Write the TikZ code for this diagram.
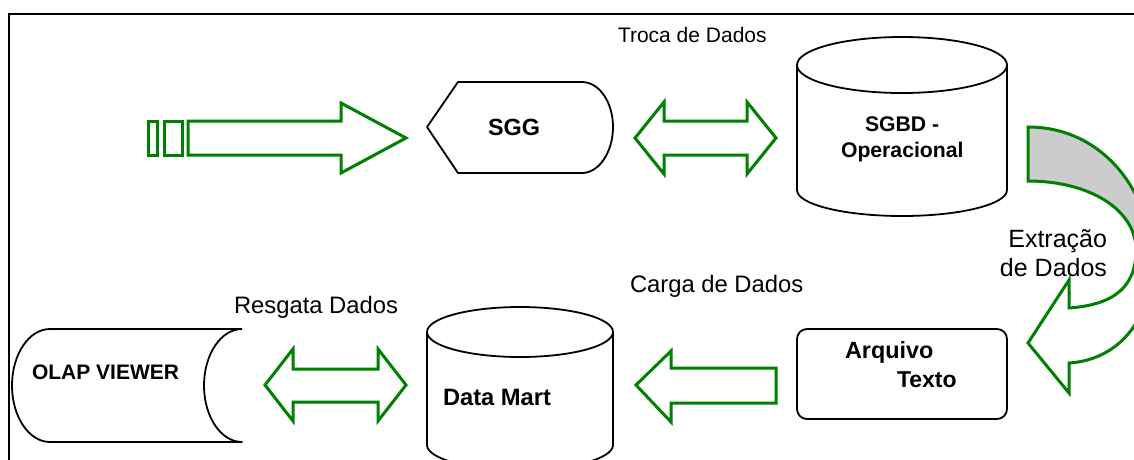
\documentclass[tikz,border=0pt]{standalone}
\usepackage{fontspec}
\setmainfont{Liberation Sans}
\begin{document}
\begin{tikzpicture}[x=1pt,y=-1pt,
  shapeline/.style={draw=black, line width=1.8pt, fill=white, line join=round},
  blockarrow/.style={draw=arrowgreen, line width=3pt, fill=white, line join=miter},
  lbl/.style={inner sep=0pt, outer sep=0pt},
  txt/.style={lbl, anchor=base west},
  txtr/.style={lbl, anchor=base east}]
\definecolor{arrowgreen}{RGB}{0,128,0}
\definecolor{backshade}{RGB}{204,204,204}
\newcommand{\fs}[1]{\fontsize{#1}{#1}\selectfont}

\useasboundingbox (0,0) rectangle (1134,459);
\clip (0,0) rectangle (1134,459);
\fill[white] (0,0) rectangle (1134,459);

% outer frame, open to the right and bottom
\draw[line width=2pt] (1140,14) -- (9,14) -- (9,470);

% ---- feed arrow into SGG ----
\draw[blockarrow] (148,121) rectangle (157,155);
\draw[blockarrow] (164,121) rectangle (182,155);
\draw[blockarrow] (188,121) -- (341,121) -- (341,103) -- (406,138)
  -- (341,173) -- (341,155) -- (188,155) -- cycle;

% ---- SGG (display shape) ----
\draw[shapeline] (427,127) -- (458,82) -- (582,82)
  .. controls (599,82) and (613,102) .. (613,127)
  .. controls (613,152) and (599,173) .. (582,173) -- (458,173) -- cycle;
\node[txt, font=\bfseries\fs{23.4}] (sgg) at (488,135) {SGG};

% ---- exchange arrow SGG <-> SGBD ----
\draw[blockarrow] (635,138) -- (664,102) -- (664,121) -- (747,121)
  -- (747,102) -- (776,138) -- (747,174) -- (747,155) -- (664,155)
  -- (664,174) -- cycle;
\node[txt, font=\fs{21}] (troca) at (618,42) {Troca de Dados};

% ---- SGBD cylinder ----
\draw[shapeline] (797,65) -- (797,190)
  arc[start angle=180, end angle=360, x radius=105pt, y radius=26pt]
  -- (1007,65);
\draw[shapeline] (902,65) ellipse [x radius=105pt, y radius=28pt];
\node[txt, font=\bfseries\fs{21.2}] (sgbd1) at (865,131) {SGBD -};
\node[txt, font=\bfseries\fs{21.2}] (sgbd2) at (841,157) {Operacional};

% ---- curved extraction arrow ----
\fill[backshade] (1028,127) .. controls (1105,127) and (1152,195) .. (1152,262)
  -- (1136,250) .. controls (1136,210) and (1090,181) .. (1028,181) -- cycle;
\draw[draw=arrowgreen, line width=3pt, line join=miter]
  (1028,127) .. controls (1105,127) and (1152,195) .. (1152,262)
  .. controls (1152,320) and (1118,360) .. (1069,363)
  -- (1069,393) -- (1028,343) -- (1069,280) -- (1069,308)
  .. controls (1110,305) and (1136,290) .. (1136,250)
  .. controls (1136,210) and (1090,181) .. (1028,181) -- cycle;
\node[txtr, font=\fs{25}] (extr1) at (1107,247) {Extração};
\node[txtr, font=\fs{25}] (extr2) at (1107,276) {de Dados};

% ---- Arquivo Texto ----
\draw[shapeline, rounded corners=10pt] (797,329) rectangle (1007,419);
\node[txt, font=\bfseries\fs{23.4}] (arq1) at (845,358) {Arquivo};
\node[txt, font=\bfseries\fs{23}] (arq2) at (897,387) {Texto};

% ---- load arrow into Data Mart ----
\draw[blockarrow] (636,385) -- (671,351) -- (671,368) -- (776,368)
  -- (776,403) -- (671,403) -- (671,422) -- cycle;
\node[txt, font=\fs{23.8}] (carga) at (630,292) {Carga de Dados};

% ---- Data Mart cylinder ----
\draw[shapeline] (427,332) -- (427,445)
  arc[start angle=180, end angle=360, x radius=93pt, y radius=25pt]
  -- (613,332);
\draw[shapeline] (520,332) ellipse [x radius=93pt, y radius=25pt];
\node[txt, font=\bfseries\fs{23.7}] (dm) at (443,405) {Data Mart};

% ---- retrieval arrow OLAP <-> Data Mart ----
\draw[blockarrow] (265,385) -- (293,349) -- (293,369) -- (378,369)
  -- (378,349) -- (406,385) -- (378,421) -- (378,402) -- (293,402)
  -- (293,421) -- cycle;
\node[txt, font=\fs{23.8}] (resg) at (234,313) {Resgata Dados};

% ---- OLAP VIEWER (stored data shape) ----
\draw[shapeline] (242,329) -- (50,329)
  arc[start angle=90, end angle=270, x radius=38pt, y radius=56.5pt]
  -- (242,442)
  arc[start angle=270, end angle=90, x radius=38pt, y radius=56.5pt];
\node[txt, font=\bfseries\fs{21}] (olap) at (32,379) {OLAP VIEWER};
\end{tikzpicture}
\end{document}
